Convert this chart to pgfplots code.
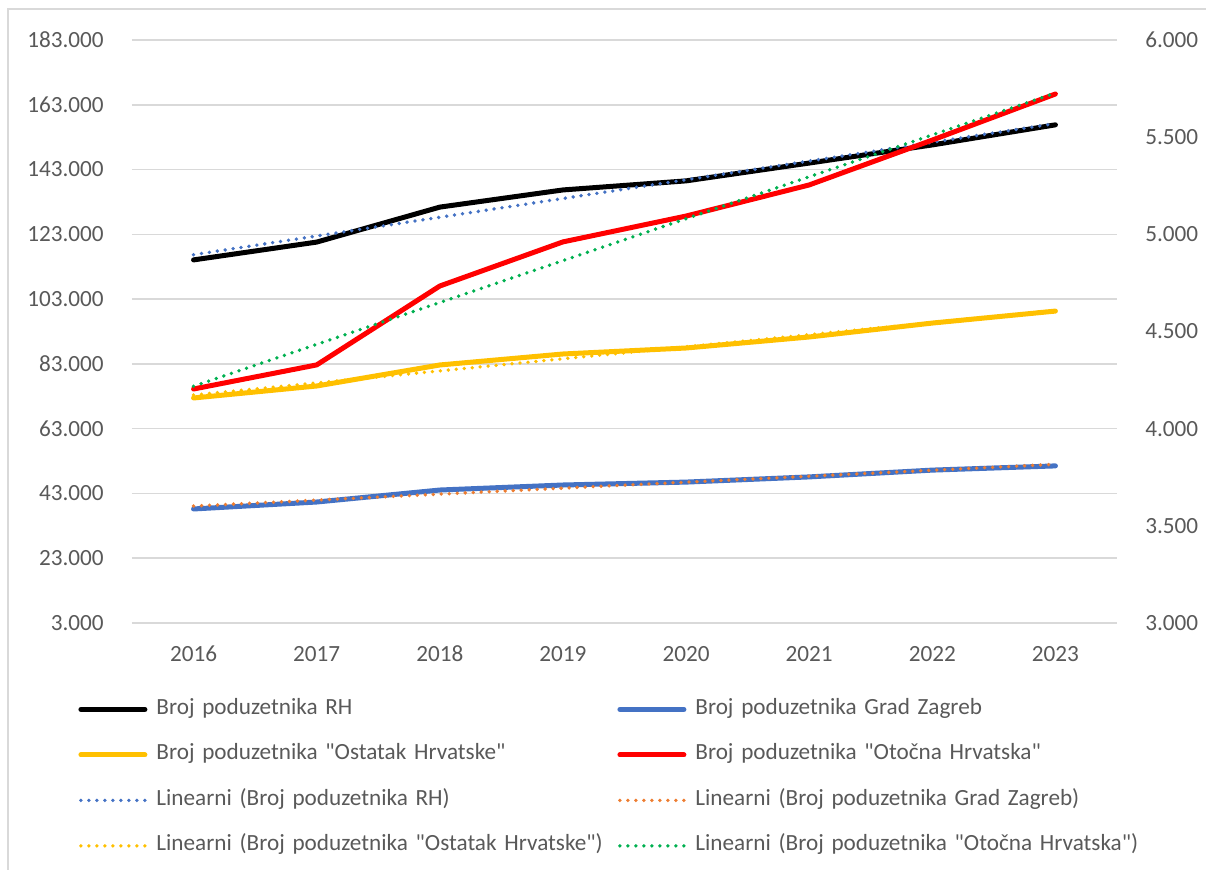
\documentclass[border=0pt]{standalone}
\usepackage{fontspec}
\setmainfont{Carlito}[Ligatures=TeXOff]
\usepackage{pgfplots}
\pgfplotsset{compat=1.18}

\definecolor{cRH}{HTML}{000000}
\definecolor{cZG}{HTML}{4472C4}
\definecolor{cOS}{HTML}{FFC000}
\definecolor{cOT}{HTML}{FF0000}
\definecolor{cLZG}{HTML}{ED7D31}
\definecolor{cLOT}{HTML}{00B050}
\definecolor{gridc}{HTML}{D9D9D9}
\definecolor{txtc}{HTML}{595959}

\pgfplotsset{
  common/.style={
    scale only axis, width=492.5pt, height=291.5pt,
    at={(66pt,123.5pt)}, anchor=south west,
    xmin=-0.5, xmax=7.5, clip=false,
    axis line style={draw=none}, major tick length=0pt,
    scaled y ticks=false,
    tick label style={font=\fontsize{11.6}{14}\selectfont, color=txtc},
    yticklabel style={/pgf/number format/fixed, /pgf/number format/1000 sep={.},
      /pgf/number format/assume math mode=true},
  },
  solid line/.style={line width=2.5pt, line cap=round, line join=round},
  trend/.style={line width=1.9pt, line cap=round, dash pattern=on 0pt off 4pt},
}

\begin{document}
\begin{tikzpicture}[x=1pt,y=1pt]
\useasboundingbox (0,0) rectangle (603,435);
\draw[gridc, line width=0.75pt] (4,0) -- (4,430.5) -- (603,430.5);

% primary axis
\begin{axis}[common,
    ymin=3000, ymax=183000,
    ytick={3000,23000,...,183000},
    xtick={0,...,7},
    xticklabels={2016,2017,2018,2019,2020,2021,2022,2023},
    xticklabel style={yshift=-8pt},
    yticklabel style={xshift=-10.6pt},
    ymajorgrids, grid style={gridc, line width=0.75pt},
]
\addplot[solid line, cRH, forget plot] coordinates {(0,115100) (1,120600) (2,131400) (3,136700) (4,139500) (5,145000) (6,150600) (7,156800)};
\addplot[solid line, cZG, forget plot] coordinates {(0,38200) (1,40350) (2,44050) (3,45600) (4,46500) (5,48100) (6,50200) (7,51500)};
\addplot[solid line, cOS, forget plot] coordinates {(0,72470) (1,76170) (2,82660) (3,86050) (4,87900) (5,91300) (6,95600) (7,99300)};
% linear trends
\addplot[trend, cZG, forget plot] coordinates {(0,116700) (7,157200)};
\addplot[trend, cLZG, forget plot] coordinates {(0,39100) (7,52000)};
\addplot[trend, cOS, forget plot] coordinates {(0,73400) (7,99450)};
\end{axis}

% secondary axis
\begin{axis}[common,
    ymin=3000, ymax=6000,
    ytick={3000,3500,...,6000},
    axis y line*=right, axis x line=none,
    yticklabel style={xshift=10.6pt},
    legend columns=2,
    legend cell align=left,
    legend image code/.code={\draw[#1] (0pt,0pt) -- (32pt,0pt);},
    legend style={at={(axis description cs:-0.0548,-0.1287)}, anchor=north west,
      draw=none, fill=none, inner sep=0pt, row sep=11.75pt, column sep=0pt,
      font=\fontsize{11.6}{14}\selectfont, text=txtc,
      nodes={text width=226pt, inner xsep=4.5pt, inner ysep=0pt, text height=8pt, text depth=3pt}},
]
\addplot[solid line, cOT, forget plot] coordinates {(0,4204) (1,4328) (2,4734) (3,4961) (4,5094) (5,5254) (6,5485) (7,5722)};
\addplot[trend, cLOT, forget plot] coordinates {(0,4218) (7,5727)};

\addlegendimage{solid line, cRH}
\addlegendentry{Broj poduzetnika RH}
\addlegendimage{solid line, cZG}
\addlegendentry{Broj poduzetnika Grad Zagreb}
\addlegendimage{solid line, cOS}
\addlegendentry{Broj poduzetnika "Ostatak Hrvatske"}
\addlegendimage{solid line, cOT}
\addlegendentry{Broj poduzetnika "Otočna Hrvatska"}
\addlegendimage{trend, cZG}
\addlegendentry{Linearni (Broj poduzetnika RH)}
\addlegendimage{trend, cLZG}
\addlegendentry{Linearni (Broj poduzetnika Grad Zagreb)}
\addlegendimage{trend, cOS}
\addlegendentry{Linearni (Broj poduzetnika "Ostatak Hrvatske")}
\addlegendimage{trend, cLOT}
\addlegendentry{Linearni (Broj poduzetnika "Otočna Hrvatska")}
\end{axis}
\end{tikzpicture}
\end{document}
